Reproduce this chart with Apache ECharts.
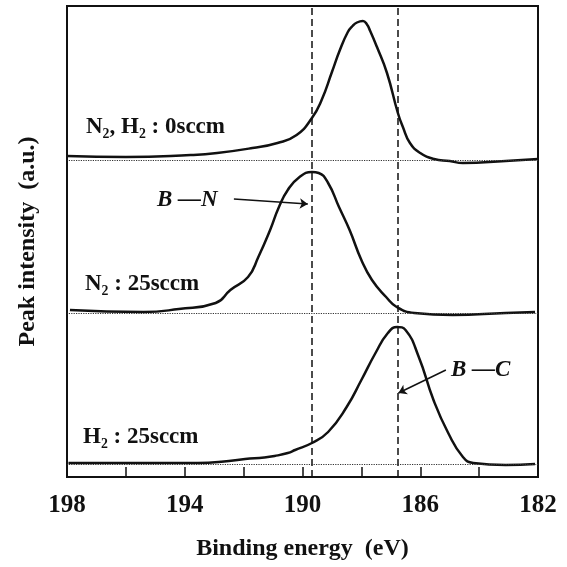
<!DOCTYPE html>
<html>
<head>
<meta charset="utf-8">
<script src="https://cdn.jsdelivr.net/npm/echarts@6/dist/echarts.min.js"></script>
<style>
  html, body { margin: 0; padding: 0; background: #fff; }
  #chart { width: 567px; height: 567px; }
</style>
</head>
<body>
<div id="chart"></div>
<script>
// binding energy axis labels (eV)
const tickLabels = [198, 194, 190, 186, 182]
const curveNames = ['N₂, H₂ : 0sccm', 'N₂ : 25sccm', 'H₂ : 25sccm']

// N2, H2 : 0sccm
const energy0 = [198.0, 196.0, 193.8, 192.9, 191.7, 190.85, 190.2, 189.68, 189.35, 189.0, 188.73, 188.46, 188.3, 188.15, 187.95, 187.82, 187.7, 187.47, 187.13, 186.76, 186.59, 186.35, 186.0, 185.53, 185.0, 184.55, 183.1, 182.0]
const intensity0 = [4, 3, 5, 7, 12, 17, 25, 42, 60, 88, 110, 128, 134, 137.5, 139, 136, 129, 113, 87, 47, 33, 17, 7, 1, -1, -3, -1, 1]

// N2 : 25sccm
const energy1 = [197.9, 195.4, 194.2, 192.95, 192.45, 191.85, 191.5, 191.1, 190.8, 190.5, 190.1, 189.68, 189.45, 189.13, 188.76, 188.4, 188.0, 187.64, 187.16, 186.8, 186.2, 184.9, 183.1, 182.1]
const intensity1 = [3, 1, 4, 10, 23, 36, 56, 83, 106, 123, 136, 141, 140, 130, 106, 83, 53, 33, 16, 6, 0, -2, 0, 1]

// H2 : 25sccm
const energy2 = [197.95, 195.4, 193.55, 192.5, 191.95, 191.3, 190.95, 190.5, 190.25, 189.68, 189.13, 188.5, 188.0, 187.52, 187.1, 186.78, 186.5, 186.05, 185.55, 185.05, 184.55, 184.2, 183.1, 182.1]
const intensity2 = [1, 1, 1, 3, 5, 6.5, 8, 11, 14, 21, 32, 57, 84, 111, 131, 137, 134, 107, 64, 31, 7, 1, -1, 0]

// vertical offset of each spectrum (a.u.)
const baselines = [317, 164, 13]
// B-N and B-C peak positions (eV)
const peakLines = [189.7, 186.75]

const energies = [energy0, energy1, energy2]
const intensities = [intensity0, intensity1, intensity2]

const FONT = 'Liberation Serif'
const chart = echarts.init(document.getElementById('chart'))

const series = energies.map((e, i) => ({
  type: 'line',
  name: curveNames[i],
  data: e.map((x, k) => [x, baselines[i] + intensities[i][k]]),
  showSymbol: false,
  smooth: 0.5,
  lineStyle: { color: '#111', width: 2.5 },
  silent: true,
  z: 3,
  markLine: {
    silent: true,
    symbol: 'none',
    label: { show: false },
    lineStyle: { color: '#333', type: 'dotted', width: 1.2 },
    data: [{ yAxis: baselines[i] }]
  }
}))

// dashed peak lines
series[0].markLine.data.push(...peakLines.map(v => ({
  xAxis: v,
  lineStyle: { color: '#111', type: [7, 4], width: 1.5 }
})))

// arrows
const arrowStyle = { color: '#111', type: 'solid', width: 1.5 }
series[1].markLine.data.push([
  { coord: [192.33, 278], symbol: 'none', lineStyle: arrowStyle },
  { coord: [189.82, 273], symbol: 'arrow', symbolSize: 8 }
])
series[2].markLine.data.push([
  { coord: [185.13, 107], symbol: 'none', lineStyle: arrowStyle },
  { coord: [186.74, 84], symbol: 'arrow', symbolSize: 8 }
])

const textStyle = (extra) => Object.assign({
  fill: '#111',
  font: 'bold 23px "' + FONT + '"',
  verticalAlign: 'middle'
}, extra)

const option = {
  animation: false,
  grid: {
    left: 67, right: 29, top: 6, bottom: 90,
    show: true, borderColor: '#111', borderWidth: 2,
    backgroundColor: 'transparent'
  },
  xAxis: {
    type: 'value',
    min: 182, max: 198, interval: 2,
    inverse: true,
    name: 'Binding energy  (eV)',
    nameLocation: 'middle',
    nameGap: 60,
    nameTextStyle: { fontFamily: FONT, fontWeight: 'bold', fontSize: 24, color: '#111' },
    axisLine: { lineStyle: { color: '#111', width: 2 } },
    axisTick: { inside: true, length: 10, lineStyle: { color: '#111', width: 1.5 } },
    axisLabel: {
      margin: 16,
      fontFamily: FONT, fontWeight: 'bold', fontSize: 25, color: '#111',
      formatter: v => tickLabels.includes(v) ? String(v) : ''
    },
    splitLine: { show: false }
  },
  yAxis: {
    type: 'value',
    min: 0, max: 471,
    name: 'Peak intensity  (a.u.)',
    nameLocation: 'middle',
    nameGap: 27,
    nameTextStyle: { fontFamily: FONT, fontWeight: 'bold', fontSize: 24, color: '#111' },
    axisLine: { show: false },
    axisTick: { show: false },
    axisLabel: { show: false },
    splitLine: { show: false }
  },
  graphic: [
    { type: 'text', left: 86, top: 116, style: textStyle({ text: curveNames[0] }) },
    { type: 'text', left: 85, top: 273, style: textStyle({ text: curveNames[1] }) },
    { type: 'text', left: 83, top: 426, style: textStyle({ text: curveNames[2] }) },
    { type: 'text', left: 157, top: 189, style: textStyle({ text: 'B —N', font: 'italic bold 23px "' + FONT + '"' }) },
    { type: 'text', left: 451, top: 359, style: textStyle({ text: 'B —C', font: 'italic bold 23px "' + FONT + '"' }) }
  ],
  series
}

chart.setOption(option)
</script>
</body>
</html>
